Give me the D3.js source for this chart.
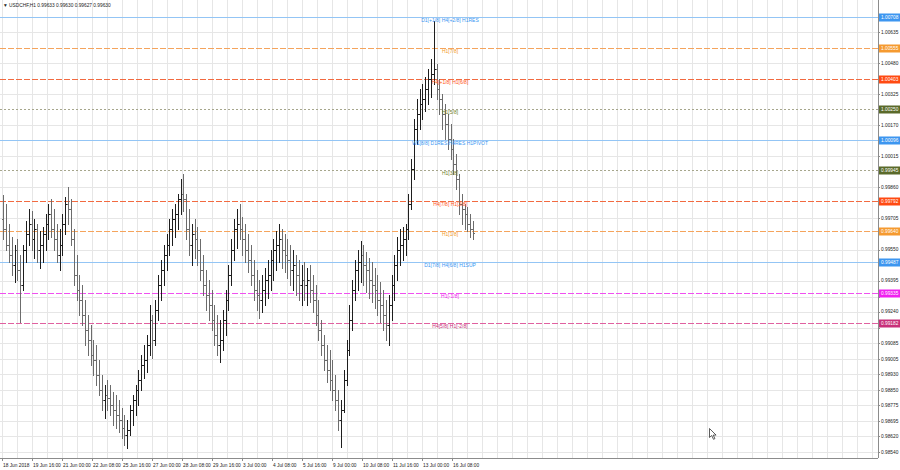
<!DOCTYPE html>
<html><head><meta charset="utf-8">
<script src="https://cdn.jsdelivr.net/npm/d3@7/dist/d3.min.js"></script>
<style>body{margin:0;background:#fff}svg{display:block}text{font-family:"Liberation Sans",Arial,sans-serif}</style>
</head><body><svg id="c" width="900" height="470"></svg>
<script>
// ---------- data ----------
const symbol = "USDCHF,H1";
const quote = [0.99633, 0.99630, 0.99627, 0.99630];
const hoursPerBar = 3;
const firstOpen = 0.99700;
const highs = [0.99820,0.99775,0.99675,0.99610,0.99575,0.99600,0.99525,0.99575,0.99690,0.99750,0.99740,0.99700,0.99675,0.99640,0.99660,0.99725,0.99775,0.99800,0.99750,0.99675,0.99650,0.99725,0.99810,0.99860,0.99800,0.99650,0.99525,0.99425,0.99375,0.99300,0.99225,0.99175,0.99100,0.99075,0.99000,0.98925,0.98875,0.98900,0.98875,0.98840,0.98825,0.98800,0.98760,0.98725,0.98700,0.98775,0.98825,0.98875,0.98950,0.99025,0.99075,0.99125,0.99275,0.99225,0.99300,0.99425,0.99500,0.99575,0.99625,0.99700,0.99750,0.99775,0.99825,0.99900,0.99925,0.99825,0.99750,0.99675,0.99700,0.99660,0.99600,0.99525,0.99450,0.99400,0.99350,0.99275,0.99225,0.99200,0.99250,0.99350,0.99475,0.99600,0.99700,0.99750,0.99775,0.99710,0.99675,0.99625,0.99575,0.99500,0.99450,0.99400,0.99425,0.99460,0.99500,0.99550,0.99600,0.99640,0.99675,0.99650,0.99625,0.99600,0.99575,0.99550,0.99525,0.99500,0.99475,0.99490,0.99460,0.99475,0.99425,0.99375,0.99300,0.99200,0.99125,0.99075,0.99050,0.99000,0.98925,0.98850,0.98800,0.98950,0.99100,0.99275,0.99400,0.99500,0.99550,0.99590,0.99575,0.99540,0.99510,0.99490,0.99460,0.99425,0.99390,0.99350,0.99300,0.99325,0.99425,0.99525,0.99610,0.99650,0.99660,0.99675,0.99825,1.00000,1.00200,1.00300,1.00350,1.00375,1.00410,1.00450,1.00500,1.00690,1.00475,1.00400,1.00325,1.00275,1.00225,1.00175,1.00100,1.00025,0.99925,0.99825,0.99775,0.99760,0.99725,0.99690];
const lows = [0.99600,0.99550,0.99490,0.99425,0.99390,0.99400,0.99190,0.99350,0.99490,0.99575,0.99550,0.99510,0.99490,0.99460,0.99490,0.99550,0.99600,0.99610,0.99550,0.99490,0.99450,0.99525,0.99625,0.99675,0.99575,0.99375,0.99300,0.99225,0.99175,0.99075,0.99025,0.98975,0.98925,0.98875,0.98825,0.98750,0.98710,0.98750,0.98725,0.98675,0.98660,0.98640,0.98610,0.98575,0.98560,0.98625,0.98675,0.98725,0.98775,0.98850,0.98910,0.98940,0.99025,0.99010,0.99075,0.99200,0.99300,0.99375,0.99450,0.99525,0.99575,0.99610,0.99650,0.99725,0.99740,0.99600,0.99525,0.99475,0.99510,0.99475,0.99400,0.99325,0.99250,0.99200,0.99150,0.99075,0.99025,0.98990,0.99050,0.99125,0.99250,0.99375,0.99500,0.99560,0.99600,0.99525,0.99490,0.99440,0.99375,0.99300,0.99250,0.99210,0.99240,0.99275,0.99310,0.99350,0.99400,0.99450,0.99490,0.99460,0.99440,0.99410,0.99375,0.99350,0.99325,0.99300,0.99275,0.99300,0.99275,0.99290,0.99240,0.99175,0.99100,0.99025,0.98950,0.98890,0.98850,0.98800,0.98750,0.98650,0.98565,0.98740,0.98875,0.99025,0.99150,0.99300,0.99350,0.99390,0.99375,0.99340,0.99310,0.99290,0.99260,0.99225,0.99190,0.99150,0.99100,0.99075,0.99200,0.99300,0.99400,0.99475,0.99500,0.99525,0.99600,0.99750,0.99900,1.00075,1.00150,1.00200,1.00240,1.00275,1.00310,1.00375,1.00300,1.00225,1.00150,1.00100,1.00050,1.00000,0.99925,0.99850,0.99725,0.99675,0.99650,0.99640,0.99610,0.99600];
const closes = [0.99650,0.99575,0.99525,0.99475,0.99550,0.99450,0.99375,0.99550,0.99625,0.99675,0.99600,0.99650,0.99550,0.99575,0.99625,0.99675,0.99725,0.99650,0.99600,0.99525,0.99575,0.99675,0.99775,0.99750,0.99600,0.99425,0.99350,0.99300,0.99225,0.99150,0.99100,0.99025,0.99000,0.98925,0.98850,0.98800,0.98825,0.98810,0.98775,0.98750,0.98725,0.98700,0.98660,0.98625,0.98650,0.98750,0.98800,0.98850,0.98900,0.98975,0.99000,0.99075,0.99200,0.99100,0.99250,0.99375,0.99450,0.99525,0.99575,0.99650,0.99700,0.99725,0.99800,0.99825,0.99800,0.99650,0.99575,0.99625,0.99600,0.99550,0.99450,0.99375,0.99325,0.99275,0.99200,0.99125,0.99075,0.99100,0.99200,0.99300,0.99425,0.99550,0.99650,0.99675,0.99650,0.99600,0.99550,0.99500,0.99425,0.99350,0.99325,0.99300,0.99350,0.99400,0.99425,0.99500,0.99550,0.99575,0.99600,0.99550,0.99525,0.99500,0.99450,0.99475,0.99425,0.99375,0.99400,0.99375,0.99400,0.99350,0.99300,0.99225,0.99150,0.99075,0.99000,0.98950,0.98900,0.98850,0.98800,0.98700,0.98750,0.98900,0.99050,0.99200,0.99350,0.99450,0.99490,0.99525,0.99475,0.99450,0.99400,0.99375,0.99350,0.99300,0.99275,0.99225,0.99175,0.99275,0.99375,0.99475,0.99550,0.99575,0.99600,0.99650,0.99775,0.99950,1.00150,1.00225,1.00275,1.00300,1.00350,1.00400,1.00425,1.00450,1.00350,1.00300,1.00225,1.00175,1.00100,1.00050,0.99975,0.99900,0.99775,0.99750,0.99725,0.99675,0.99650,0.99630];

const timeLabels = ["18 Jun 2018","19 Jun 16:00","21 Jun 00:00","22 Jun 08:00","25 Jun 16:00","27 Jun 00:00","28 Jun 08:00","29 Jun 16:00","3 Jul 00:00","4 Jul 08:00","5 Jul 16:00","9 Jul 00:00","10 Jul 08:00","11 Jul 16:00","13 Jul 00:00","16 Jul 08:00"];
const hoursPerLabel = 32;
const priceTicks = [1.00710,1.00635,1.00555,1.00480,1.00400,1.00325,1.00250,1.00170,1.00095,1.00015,0.99940,0.99860,0.99785,0.99705,0.99630,0.99550,0.99475,0.99395,0.99315,0.99240,0.99160,0.99085,0.99005,0.98930,0.98850,0.98775,0.98695,0.98620,0.98540];

const levelValues = [1.00708,1.00555,1.00403,1.00250,1.00096,0.99945,0.99792,0.99640,0.99487,0.99335,0.99182];
const levelLabels = ["D1[+1/8] H4[+2/8] H1RES","H1[7/8]","H4[+1/8] H1[6/8]","H1[5/8]","W1[8/8] D1RES H4RES H1PIVOT","H1[3/8]","H4[7/8] H1[2/8]","H1[1/8]","D1[7/8] H4[6/8] H1SUP","H1[-1/8]","H4[5/8] H1[-2/8]"];
const levelKinds = ["major","h1","h4","minor","major","minor","h4","h1","major","ext1","ext2"];

// ---------- styles ----------
const kindStyle = {
  major:{line:"#93c5f5", text:"#3a96f2", box:"#3d96f0", dash:null},
  h1:{line:"#f5a45c", text:"#f39a2c", box:"#f59a30", dash:"6,2"},
  h4:{line:"#f26a40", text:"#ff5522", box:"#ff4a12", dash:"6,2"},
  minor:{line:"#a6a68c", text:"#6f7f2a", box:"#5a6a2a", dash:"2,2"},
  ext1:{line:"#f050f0", text:"#f020f0", box:"#f020f0", dash:"6,2"},
  ext2:{line:"#e060a0", text:"#c8307a", box:"#c8307a", dash:"6,2"}
};
const axisFont = 4.8, levelFont = 5;

const W = 900, H = 470, plotRight = 878, plotBottom = 458;
const svg = d3.select("#c");

const y = d3.scaleLinear().domain([1.00635, 0.98540]).range([32, 452]);
const x = d3.scaleLinear().domain([0, hoursPerLabel]).range([2, 32]);

svg.append("rect").attr("width",W).attr("height",H).attr("fill","#fff");

// grid
const g = svg.append("g").attr("shape-rendering","crispEdges");
const vGrid = d3.range(0, 60*16, 16).filter(h => x(h) < plotRight);
g.selectAll(".vg").data(vGrid).join("line")
  .attr("x1",d=>Math.round(x(d))+0.5).attr("x2",d=>Math.round(x(d))+0.5)
  .attr("y1",0).attr("y2",plotBottom).attr("stroke","#e6e6e6");
g.selectAll(".hg").data(priceTicks.filter(t => !levelValues.some(v => Math.abs(y(v)-y(t)) < 3))).join("line")
  .attr("x1",0).attr("x2",plotRight).attr("y1",d=>Math.round(y(d))+0.5).attr("y2",d=>Math.round(y(d))+0.5)
  .attr("stroke","#e6e6e6");

// level lines
const lv = svg.append("g").attr("shape-rendering","crispEdges");
lv.selectAll("line").data(levelValues).join("line")
  .attr("x1",0).attr("x2",plotRight)
  .attr("y1",d=>Math.round(y(d))+0.5).attr("y2",d=>Math.round(y(d))+0.5)
  .attr("stroke",(d,i)=>kindStyle[levelKinds[i]].line)
  .attr("stroke-width",1)
  .attr("stroke-dasharray",(d,i)=>kindStyle[levelKinds[i]].dash);

// bars (OHLC)
const bars = highs.map((h,i)=>({h, l:lows[i], c:closes[i], o: i===0?firstOpen:closes[i-1], t:i*hoursPerBar+hoursPerBar/2}));
const bg = svg.append("g").attr("shape-rendering","crispEdges");
bars.forEach(b=>{
  const cx = Math.round(x(b.t))+0.5;
  const col = b.c>=b.o ? "#1e1e1e" : "#6c6c6c";
  bg.append("line").attr("x1",cx).attr("x2",cx).attr("y1",Math.round(y(b.h))).attr("y2",Math.round(y(b.l))+1).attr("stroke",col);
  bg.append("line").attr("x1",cx-1.5).attr("x2",cx).attr("y1",Math.round(y(b.o))+0.5).attr("y2",Math.round(y(b.o))+0.5).attr("stroke",col);
  bg.append("line").attr("x1",cx).attr("x2",cx+1.5).attr("y1",Math.round(y(b.c))+0.5).attr("y2",Math.round(y(b.c))+0.5).attr("stroke",col);
});

// level labels on chart
svg.append("g").selectAll("text").data(levelValues).join("text")
  .attr("x",450).attr("y",d=>Math.round(y(d))+5).attr("text-anchor","middle")
  .attr("font-size",levelFont).attr("fill",(d,i)=>kindStyle[levelKinds[i]].text)
  .text((d,i)=>levelLabels[i]);

// axes frame
svg.append("line").attr("x1",plotRight+0.5).attr("x2",plotRight+0.5).attr("y1",0).attr("y2",plotBottom).attr("stroke","#8c8c8c").attr("shape-rendering","crispEdges");
svg.append("line").attr("x1",0).attr("x2",plotRight).attr("y1",plotBottom+0.5).attr("y2",plotBottom+0.5).attr("stroke","#8c8c8c").attr("shape-rendering","crispEdges");

// right axis labels (labels hidden under level boxes are skipped)
const visibleTicks = priceTicks.filter(t => !levelValues.some(v => Math.abs(y(v)-y(t)) < 6));
const ra = svg.append("g");
ra.selectAll("text").data(visibleTicks).join("text")
  .attr("x",881).attr("y",d=>y(d)+1.8).attr("font-size",axisFont).attr("fill","#222")
  .text(d=>d3.format(".5f")(d));
ra.selectAll("line").data(priceTicks).join("line")
  .attr("x1",plotRight).attr("x2",plotRight+2).attr("y1",d=>Math.round(y(d))+0.5).attr("y2",d=>Math.round(y(d))+0.5)
  .attr("stroke","#8c8c8c").attr("shape-rendering","crispEdges");

// level boxes
const lb = svg.append("g");
levelValues.forEach((v,i)=>{
  const yy = Math.round(y(v));
  lb.append("rect").attr("x",879).attr("y",yy-3.5).attr("width",21).attr("height",8).attr("fill",kindStyle[levelKinds[i]].box);
  lb.append("text").attr("x",881).attr("y",yy+2.3).attr("font-size",axisFont).attr("fill","#fff").text(d3.format(".5f")(v));
});

// bottom axis labels
const ba = svg.append("g");
timeLabels.forEach((t,k)=>{
  const xx = x(k*hoursPerLabel);
  ba.append("line").attr("x1",Math.round(xx)+0.5).attr("x2",Math.round(xx)+0.5).attr("y1",plotBottom).attr("y2",plotBottom+3).attr("stroke","#8c8c8c").attr("shape-rendering","crispEdges");
  ba.append("text").attr("x",xx+1).attr("y",467).attr("font-size",axisFont).attr("fill","#222").text(t);
});

// header
svg.append("text").attr("x",3).attr("y",7).attr("font-size",axisFont).attr("fill","#222")
  .text("\u25BC " + symbol + "  " + quote.map(d3.format(".5f")).join(" "));

// mouse cursor captured in the screenshot
svg.append("path").attr("transform","translate(709.5,428.5)")
  .attr("d","M0,0 L0,9 L2.2,7 L4,10.8 L5.4,10.1 L3.7,6.6 L6.6,6.6 Z")
  .attr("fill","#fff").attr("stroke","#333").attr("stroke-width",0.8);
</script>
</body></html>
